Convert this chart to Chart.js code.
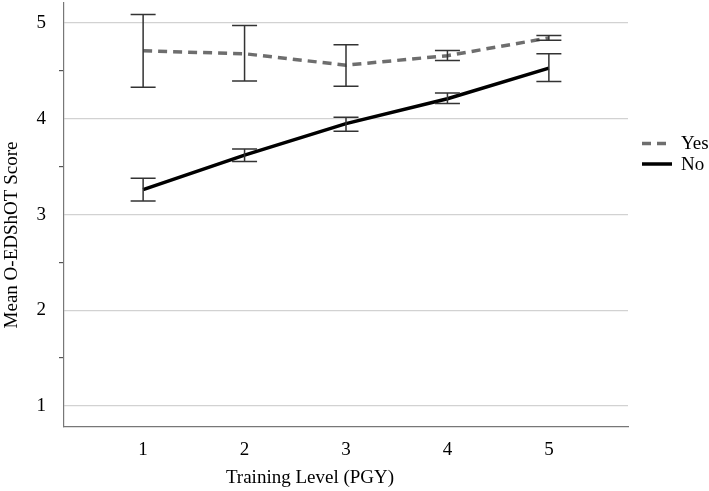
<!DOCTYPE html>
<html>
<head>
<meta charset="utf-8">
<script src="https://cdn.jsdelivr.net/npm/chart.js@4.4.0/dist/chart.umd.min.js"></script>
<style>
  html, body { margin: 0; padding: 0; background: #fff; }
  #wrap { width: 709px; height: 491px; position: relative; }
</style>
</head>
<body>
<div id="wrap"><canvas id="c"></canvas></div>
<script>
// ---- data ----
const levels = [1, 2, 3, 4, 5];
const seriesNames = ['Yes', 'No'];
const yesMean = [4.71, 4.68, 4.56, 4.66, 4.845];
const yesLow  = [4.33, 4.395, 4.34, 4.61, 4.82];
const yesHigh = [5.09, 4.975, 4.775, 4.715, 4.87];
const noMean  = [3.26, 3.62, 3.95, 4.21, 4.53];
const noLow   = [3.14, 3.555, 3.87, 4.16, 4.39];
const noHigh  = [3.38, 3.685, 4.015, 4.27, 4.68];
const yTickLabels = ['1', '2', '3', '4', '5'];
const xTickLabels = ['1', '2', '3', '4', '5'];
const xTitle = 'Training Level (PGY)';
const yTitle = 'Mean O-EDShOT Score';

const FONT = "'Liberation Serif', 'DejaVu Serif', serif";

const errs = [
  { low: yesLow, high: yesHigh },
  { low: noLow, high: noHigh }
];

const errorBars = {
  id: 'errorBars',
  afterDatasetsDraw(chart) {
    const { ctx, scales: { x, y } } = chart;
    ctx.save();
    ctx.strokeStyle = '#333333';
    ctx.lineWidth = 1.5;
    const cap = 12.5;
    errs.forEach(e => {
      levels.forEach((lv, i) => {
        const px = x.getPixelForValue(lv);
        const pLo = y.getPixelForValue(e.low[i]);
        const pHi = y.getPixelForValue(e.high[i]);
        ctx.beginPath();
        ctx.moveTo(px, pLo); ctx.lineTo(px, pHi);
        ctx.moveTo(px - cap, pLo); ctx.lineTo(px + cap, pLo);
        ctx.moveTo(px - cap, pHi); ctx.lineTo(px + cap, pHi);
        ctx.stroke();
      });
    });
    ctx.restore();
  }
};

const legendPlugin = {
  id: 'sideLegend',
  afterDraw(chart) {
    const { ctx } = chart;
    ctx.save();
    const x0 = 642, x1 = 672, tx = 681;
    const rows = [143.5, 164];
    chart.data.datasets.forEach((ds, i) => {
      const yy = rows[i];
      ctx.beginPath();
      ctx.strokeStyle = ds.borderColor;
      ctx.lineWidth = ds.borderWidth;
      ctx.setLineDash(ds.borderDash || []);
      ctx.moveTo(x0, yy); ctx.lineTo(x1, yy);
      ctx.stroke();
      ctx.setLineDash([]);
      ctx.fillStyle = '#000';
      ctx.font = "19px " + FONT;
      ctx.textBaseline = 'middle';
      ctx.textAlign = 'left';
      ctx.fillText(ds.label, tx, yy + 1);
    });
    // axis titles
    ctx.fillStyle = '#000';
    ctx.font = "19px " + FONT;
    ctx.textAlign = 'center';
    ctx.textBaseline = 'middle';
    ctx.fillText(xTitle, 310, 478);
    ctx.translate(12, 235);
    ctx.rotate(-Math.PI / 2);
    ctx.fillText(yTitle, 0, 0);
    ctx.restore();
  }
};

const mk = arr => levels.map((lv, i) => ({ x: lv, y: arr[i] }));

new Chart(document.getElementById('c'), {
  type: 'line',
  data: {
    datasets: [
      { label: seriesNames[0], data: mk(yesMean), borderColor: '#6e6e6e', borderWidth: 3.5,
        borderDash: [9, 6], pointRadius: 0, tension: 0, fill: false },
      { label: seriesNames[1], data: mk(noMean), borderColor: '#000000', borderWidth: 3.5,
        pointRadius: 0, tension: 0, fill: false }
    ]
  },
  options: {
    responsive: true,
    maintainAspectRatio: false,
    animation: false,
    events: [],
    layout: { padding: { left: 0, right: 81, top: 3, bottom: 0 } },
    plugins: { legend: { display: false }, tooltip: { enabled: false } },
    scales: {
      x: {
        type: 'linear',
        min: 0.22, max: 5.78,
        afterBuildTicks: s => { s.ticks = levels.map(v => ({ value: v })); },
        afterFit: s => { s.height = 64; s.paddingLeft = 0; s.paddingRight = 0; },
        ticks: {
          callback: (v) => { const i = levels.indexOf(v); return i >= 0 ? xTickLabels[i] : ''; },
          font: { family: FONT, size: 19 }, color: '#000', padding: 12, maxRotation: 0
        },
        grid: { color: 'rgba(0,0,0,0)', drawTicks: false },
        border: { display: true, color: '#777777', width: 1.2 },
        title: { display: false }
      },
      y: {
        type: 'linear',
        min: 0.78, max: 5.21,
        afterBuildTicks: s => {
          const t = [];
          for (let v = 1; v <= 5.0001; v += 0.5) t.push({ value: Math.round(v * 10) / 10 });
          s.ticks = t;
        },
        afterFit: s => { s.width = 64; s.paddingTop = 0; s.paddingBottom = 0; },
        ticks: {
          callback: (v) => Number.isInteger(v) ? yTickLabels[v - 1] : '',
          font: { family: FONT, size: 19 }, color: '#000', padding: 13
        },
        grid: {
          color: c => Number.isInteger(c.tick && c.tick.value) ? '#d2d2d2' : 'rgba(0,0,0,0)',
          tickColor: c => Number.isInteger(c.tick && c.tick.value) ? 'rgba(0,0,0,0)' : '#555555',
          lineWidth: 1.2, tickLength: 5, drawTicks: true
        },
        border: { display: true, color: '#777777', width: 1.2 },
        title: { display: false }
      }
    }
  },
  plugins: [errorBars, legendPlugin]
});
</script>
</body>
</html>
